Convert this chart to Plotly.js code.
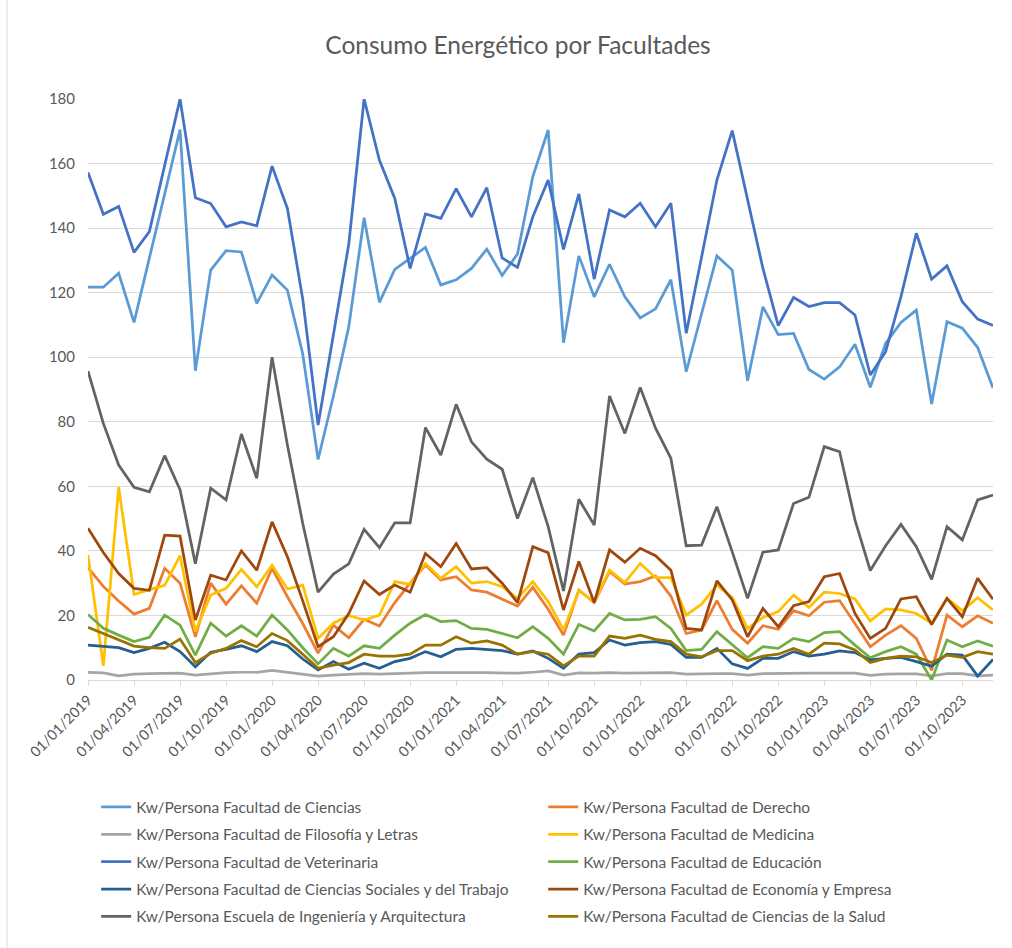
<!DOCTYPE html>
<html>
<head>
<meta charset="utf-8">
<script src="https://cdn.plot.ly/plotly-3.0.1.min.js"></script>
<style>html,body{margin:0;padding:0;background:#fff;}#chart{width:1012px;height:948px;}</style>
</head>
<body>
<div id="chart"></div>
<script>
// Month labels (monthly, Jan 2019 - Dec 2023)
const years = [2019, 2020, 2021, 2022, 2023];
const months = ["01","02","03","04","05","06","07","08","09","10","11","12"];
const dates = [];
years.forEach(y => months.forEach(m => dates.push("01/" + m + "/" + y)));
const tickLabels = dates.filter((d, i) => i % 3 === 0);

const seriesNames = [
  "Kw/Persona Facultad de Ciencias",
  "Kw/Persona Facultad de Derecho",
  "Kw/Persona Facultad de Filosofía y Letras",
  "Kw/Persona Facultad de Medicina",
  "Kw/Persona Facultad de Veterinaria",
  "Kw/Persona Facultad de Educación",
  "Kw/Persona Facultad de Ciencias Sociales y del Trabajo",
  "Kw/Persona Facultad de Economía y Empresa",
  "Kw/Persona Escuela de Ingeniería y Arquitectura",
  "Kw/Persona Facultad de Ciencias de la Salud"
];

const ciencias = [121.7,121.7,126,110.8,130.7,150.6,170.5,95.8,127,133,132.6,116.7,125.5,120.8,101,68.3,88,109.4,143.2,117,127.2,130.6,134,122.4,124,127.5,133.5,125.3,132,156,170.4,104.5,131.4,118.7,128.8,118.7,112.2,115,124,95.5,113.6,131.4,127,92.7,115.6,107,107.4,96.2,93.2,97,104,90.7,104.3,110.8,114.6,85.5,111,109,103,90.5];
const derecho = [34.8,29,24.5,20.4,22.2,34.6,30,13.4,30,23.5,29.2,23.8,34.6,25.8,17.5,8.3,17,13.1,18.8,16.7,24,30,35.6,31,32,27.9,27.2,25,22.9,28.7,21.9,13.9,27.9,24,33.6,29.7,30.5,32.2,26,14.4,15.5,24.6,15.7,11.4,16.8,15.7,21.5,19.9,24.1,24.6,17.6,10.3,13.9,16.8,12.9,3,20.1,16.5,19.9,17.6];
const filosofia = [2.4,2.2,1.3,1.8,2.0,2.1,2.1,1.5,2.0,2.3,2.4,2.4,3.0,2.4,1.8,1.2,1.5,1.7,2.0,1.8,2.0,2.3,2.3,2.3,2.4,2.3,2.3,2.1,2.1,2.4,2.8,1.5,2.2,2.1,2.3,2.1,2.2,2.3,2.3,1.8,2.0,2.0,2.0,1.5,2.0,2.1,2.1,2.1,2.1,2.1,2.1,1.4,1.8,1.9,1.9,1.3,2.0,2.0,1.3,1.5];
const medicina = [38.7,4.4,59.7,26.5,28,29.3,38.5,15,26.3,28.4,34.3,28.9,35.6,28.2,29.4,12.9,17.6,20,18.6,20.1,30.5,29.6,36.1,31.5,35.1,30,30.5,28.9,25.3,30.5,24.3,15.5,27.7,24.3,34,30.2,36.1,31.7,31.7,20.1,23.5,29.4,25.6,16,19.4,21.2,26.3,22.5,27.2,26.8,25.1,18.3,22,21.7,20.6,17.6,25.3,21.5,25.5,21.7];
const veterinaria = [157.2,144.3,146.7,132.5,138.9,159,180,149.4,147.6,140.4,141.9,140.7,159.2,146.1,118,79,107,135,180,161,149.2,127.5,144.4,143,152.2,143.5,152.5,130.8,127.8,143.5,154.9,133.4,150.6,124.2,145.6,143.5,147.7,140.4,147.7,107.4,131,154.9,170.2,149,127.5,109.8,118.5,115.7,116.9,116.9,113.1,94.5,101.7,118.8,138.4,124.2,128.3,117.2,111.8,109.8];
const educacion = [20.3,16,13.9,11.9,13.2,20.1,17,7.7,17.6,13.6,16.8,13.6,20.1,15.5,10,5,9.8,7.4,10.6,9.8,13.9,17.6,20.3,18.1,18.4,16,15.7,14.3,13.1,16.5,12.9,8,17.2,15.2,20.6,18.6,18.8,19.6,16,9.1,9.5,15,10.8,6.9,10.3,9.8,12.9,11.9,14.7,15,10.8,6.9,8.8,10.3,8,0,12.4,10.3,12.1,10.5];
const sociales = [10.8,10.3,10,8.5,9.8,11.7,8.8,4.1,8.6,9.5,10.6,8.8,11.9,10.6,6.5,3.1,5.7,3.3,5.2,3.6,5.7,6.7,8.8,7.2,9.5,9.8,9.5,9.1,8,9,6.7,3.6,8,8.5,12.4,10.8,11.6,11.9,11,7,7,9.8,5,3.6,6.7,6.7,8.8,7.4,8,9,8.5,6.2,6.7,7,5.7,4.3,8,7.7,1.2,6.4];
const economia = [47,39.5,33,28.4,27.8,44.9,44.6,18.6,32.5,31,40,34,49,38.2,24.5,10.3,13.4,20.6,30.7,26.5,29.4,27.2,39.2,35.1,42.3,34.4,34.8,30,24,41.3,39.4,21.7,36.7,24,40.3,36.5,40.8,38.5,34,16,15.5,30.7,24.8,13.4,22.2,16.5,23,24.3,32,33,20.6,12.9,16,25.1,25.8,17.2,25.3,19.6,31.5,25];
const ingenieria = [95.7,79.5,66.6,59.7,58.3,69.5,59,36,59.4,55.8,76.2,62.5,100,72.8,48.5,27.2,32.8,36,46.7,41,48.7,48.7,78.2,69.7,85.4,73.8,68.4,65.3,50,62.7,47.5,27.6,56,48,88,76.4,90.6,78,68.7,41.6,41.8,53.7,39.7,25.3,39.6,40.3,54.7,56.6,72.3,70.7,49.6,33.9,41.6,48.2,41.3,31.2,47.5,43.4,55.8,57.3];
const salud = [16.3,14.4,12.4,10.5,10,9.8,12.7,5.4,8.3,9.8,12.2,10.3,14.4,12.2,8,3.6,4.6,5.4,8,7.4,7.4,8,10.8,10.8,13.4,11.4,12.1,10.8,8,8.8,8,4.4,7.4,7.4,13.6,12.9,13.9,12.6,11.9,8,7.2,9.1,9.1,6,7.4,8,9.8,8,11.4,11.2,9.3,5.4,6.7,7.4,7.2,5.4,7.7,7,8.8,8];

const seriesValues = [ciencias, derecho, filosofia, medicina, veterinaria, educacion, sociales, economia, ingenieria, salud];
const colors = ["#5B9BD5","#ED7D31","#A5A5A5","#FFC000","#4472C4","#70AD47","#255E91","#9E480E","#636363","#997300"];

const FONT = "Lato, 'Open Sans', sans-serif";
const GREY = "#595959";

const traces = seriesValues.map((vals, i) => ({
  type: "scatter",
  mode: "lines",
  x: dates,
  y: vals,
  name: seriesNames[i],
  legendgroup: "g" + i,
  legend: (i % 2 === 0) ? "legend" : "legend2",
  line: {color: colors[i], width: 2.75},
  hoverinfo: "x+y+name"
}));

const legendCommon = {
  orientation: "v",
  yanchor: "top",
  xanchor: "left",
  y: -0.19,
  font: {family: FONT, size: 15.5, color: GREY},
  tracegroupgap: 4.2,
  bgcolor: "rgba(0,0,0,0)",
  itemwidth: 30
};

const layout = {
  width: 1012,
  height: 948,
  margin: {l: 88, r: 19, t: 99, b: 268},
  paper_bgcolor: "#ffffff",
  plot_bgcolor: "#ffffff",
  font: {family: FONT, color: GREY},
  title: {
    text: "Consumo Energético por Facultades",
    font: {family: FONT, size: 24.5, color: GREY},
    xref: "container", x: 518/1012, xanchor: "center",
    yref: "container", y: 1 - 45/948, yanchor: "middle"
  },
  xaxis: {
    type: "category",
    range: [0, 59],
    tickmode: "array",
    tickvals: tickLabels,
    ticktext: tickLabels,
    tickangle: -45,
    ticks: "outside",
    ticklen: 5,
    tickcolor: "#D9D9D9",
    showline: true,
    linecolor: "#D9D9D9",
    linewidth: 1,
    showgrid: false,
    zeroline: false,
    tickfont: {family: FONT, size: 14.5, color: GREY}
  },
  yaxis: {
    range: [0, 180],
    dtick: 20,
    tick0: 0,
    showgrid: true,
    gridcolor: "#D9D9D9",
    gridwidth: 1,
    zeroline: false,
    showline: false,
    ticks: "",
    ticklabelstandoff: 12,
    tickfont: {family: FONT, size: 15, color: GREY}
  },
  legend: Object.assign({}, legendCommon, {x: 0.009}),
  legend2: Object.assign({}, legendCommon, {x: 0.503}),
  shapes: [{
    type: "line", xref: "paper", yref: "paper",
    x0: (7 - 88) / 905, x1: (7 - 88) / 905,
    y0: (680 - 948) / 581, y1: 680 / 581,
    line: {color: "#D9D9D9", width: 1}
  }],
  showlegend: true
};

Plotly.newPlot("chart", traces, layout, {displayModeBar: false, staticPlot: false});
</script>
</body>
</html>
